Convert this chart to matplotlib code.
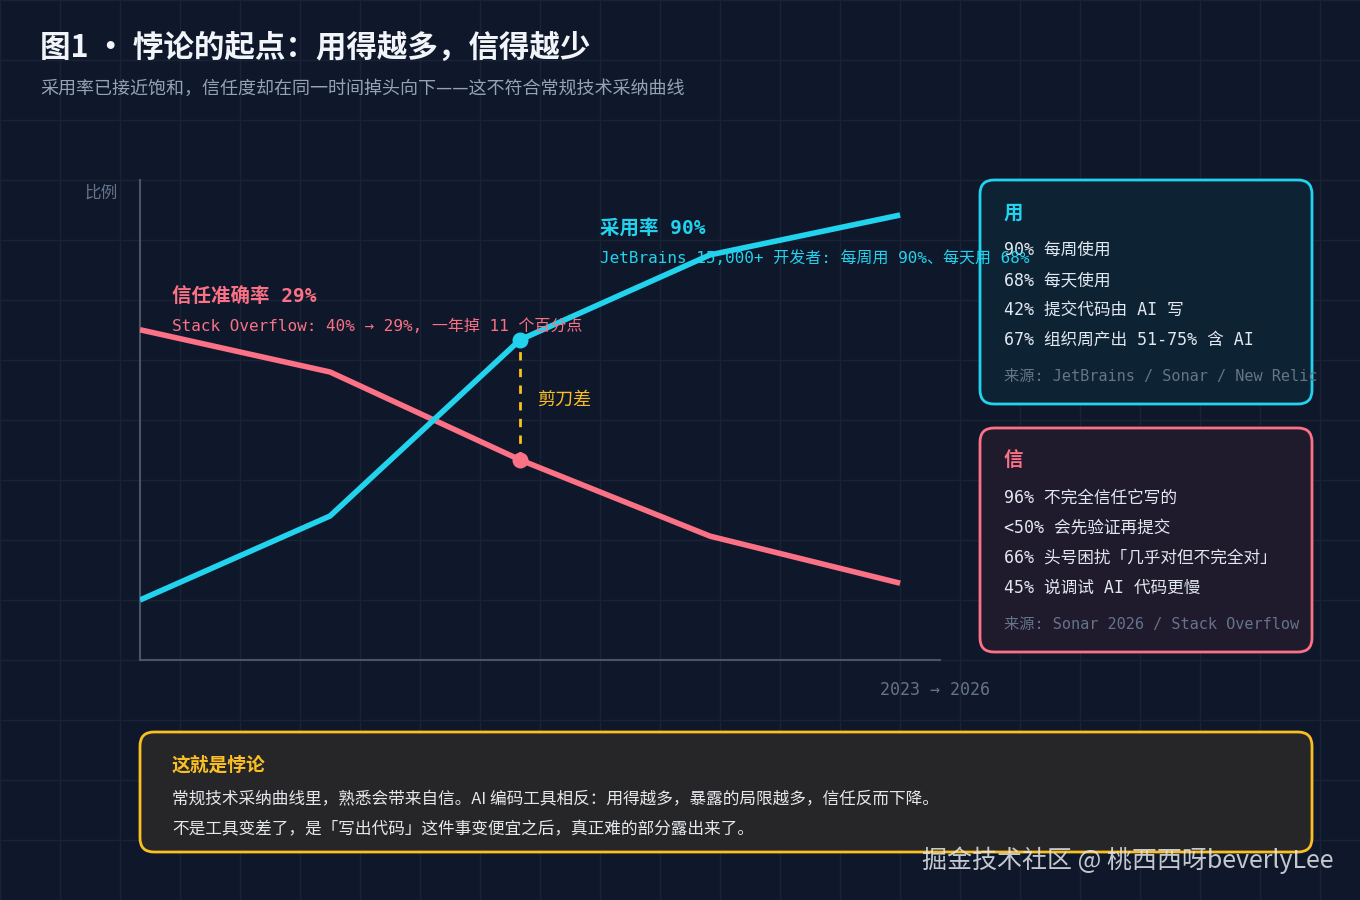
import matplotlib
matplotlib.use("Agg")
import matplotlib.pyplot as plt
from matplotlib.patches import FancyBboxPatch

plt.rcParams['font.family'] = ['Noto Sans CJK SC', 'DejaVu Sans']
MONO = ['DejaVu Sans Mono', 'Noto Sans CJK SC']

x_steps = [0, 1, 2, 3, 4]
adoption = [12.5, 30, 66.7, 84.4, 92.7]
trust = [68.8, 60, 41.7, 25.8, 16]
gap_idx = 2

use_lines = ["90% 每周使用", "68% 每天使用", "42% 提交代码由 AI 写", "67% 组织周产出 51-75% 含 AI"]
use_src = "来源: JetBrains / Sonar / New Relic"
trust_lines = ["96% 不完全信任它写的", "<50% 会先验证再提交", "66% 头号困扰「几乎对但不完全对」", "45% 说调试 AI 代码更慢"]
trust_src = "来源: Sonar 2026 / Stack Overflow"

BG = '#0f172a'
CYAN = '#22d3ee'
PINK = '#fb7185'
GOLD = '#fbbf24'

fig = plt.figure(figsize=(13.6, 9), dpi=100, facecolor=BG)
ov = fig.add_axes([0, 0, 1, 1], zorder=0)
ov.set_xlim(0, 1360); ov.set_ylim(900, 0); ov.axis('off')
ov.set_facecolor(BG)
for gx in range(0, 1361, 60):
    ov.axvline(gx, color='#1a2336', lw=1, zorder=0)
for gy in range(0, 901, 60):
    ov.axhline(gy, color='#1a2336', lw=1, zorder=0)

ov.text(40, 48, "图1 · 悖论的起点：用得越多，信得越少", color='#f1f5f9', fontsize=22, fontweight='heavy', va='center')
ov.text(40, 89, "采用率已接近饱和，信任度却在同一时间掉头向下——这不符合常规技术采纳曲线", color='#94a3b8', fontsize=13, va='center')
ov.text(85, 193, "比例", color='#64748b', fontsize=12, va='center')
ov.text(880, 690, "2023 → 2026", color='#64748b', fontsize=12, va='center', family=MONO)

# main chart
ax = fig.add_axes([140/1360, 240/900, 800/1360, 480/900], zorder=2)
ax.patch.set_alpha(0)
ax.set_xlim(0, 4.21); ax.set_ylim(0, 100)
ax.set_xticks([]); ax.set_yticks([])
for s in ['top', 'right']:
    ax.spines[s].set_visible(False)
for s in ['left', 'bottom']:
    ax.spines[s].set_color('#475569'); ax.spines[s].set_linewidth(1.5)
ax.plot(x_steps, trust, color=PINK, lw=4, solid_capstyle='butt', zorder=3)
ax.plot(x_steps, adoption, color=CYAN, lw=4, solid_capstyle='butt', zorder=3)
ax.plot([gap_idx, gap_idx], [trust[gap_idx], adoption[gap_idx]], color=GOLD, lw=2, ls=(0, (3, 3)), zorder=4)
ax.scatter([gap_idx], [adoption[gap_idx]], s=110, color=CYAN, zorder=5)
ax.scatter([gap_idx], [trust[gap_idx]], s=110, color=PINK, zorder=5)
ax.text(gap_idx + 0.09, (trust[gap_idx] + adoption[gap_idx]) / 2, "剪刀差", color=GOLD, fontsize=13, va='center')

top = fig.add_axes([0, 0, 1, 1], zorder=3)
top.set_xlim(0, 1360); top.set_ylim(900, 0); top.axis('off'); top.patch.set_alpha(0)
top.text(600, 229, "采用率 90%", color=CYAN, fontsize=14, fontweight='bold', va='center', family=MONO)
top.text(600, 258, "JetBrains 15,000+ 开发者: 每周用 90%、每天用 68%", color=CYAN, fontsize=11.5, va='center', family=MONO)
top.text(172, 297, "信任准确率 29%", color=PINK, fontsize=14, fontweight='bold', va='center', family=MONO)
top.text(172, 326, "Stack Overflow: 40% → 29%, 一年掉 11 个百分点", color=PINK, fontsize=11.5, va='center', family=MONO)

def panel(y0, h, edge, face, title, lines, src):
    top.add_patch(FancyBboxPatch((980, y0), 332, h, boxstyle="round,pad=0,rounding_size=14",
                                 fc=face, ec=edge, lw=2, zorder=1))
    top.text(1004, y0 + 33, title, color=edge, fontsize=14, fontweight='bold', va='center')
    for i, t in enumerate(lines):
        top.text(1004, y0 + 70 + 30 * i, t, color='#e2e8f0', fontsize=12, va='center', family=MONO, zorder=2)
    top.text(1004, y0 + 196, src, color='#64748b', fontsize=11, va='center', family=MONO, zorder=2)

panel(180, 224, CYAN, '#0d2233', "用", use_lines, use_src)
panel(428, 224, PINK, '#1f1a2c', "信", trust_lines, trust_src)

top.add_patch(FancyBboxPatch((140, 732), 1172, 120, boxstyle="round,pad=0,rounding_size=14",
                             fc='#262628', ec=GOLD, lw=2, zorder=1))
top.text(172, 765, "这就是悖论", color=GOLD, fontsize=13.5, fontweight='bold', va='center')
top.text(172, 800, "常规技术采纳曲线里，熟悉会带来自信。AI 编码工具相反：用得越多，暴露的局限越多，信任反而下降。",
         color='#e5e7eb', fontsize=12, va='center')
top.text(172, 830, "不是工具变差了，是「写出代码」这件事变便宜之后，真正难的部分露出来了。",
         color='#e5e7eb', fontsize=12, va='center')
top.text(1334, 860, "掘金技术社区 @ 桃西西呀beverlyLee", color='#e5e7eb', alpha=0.85, fontsize=18, ha='right', va='center')

fig.savefig('out.png', dpi=100, facecolor=BG)
